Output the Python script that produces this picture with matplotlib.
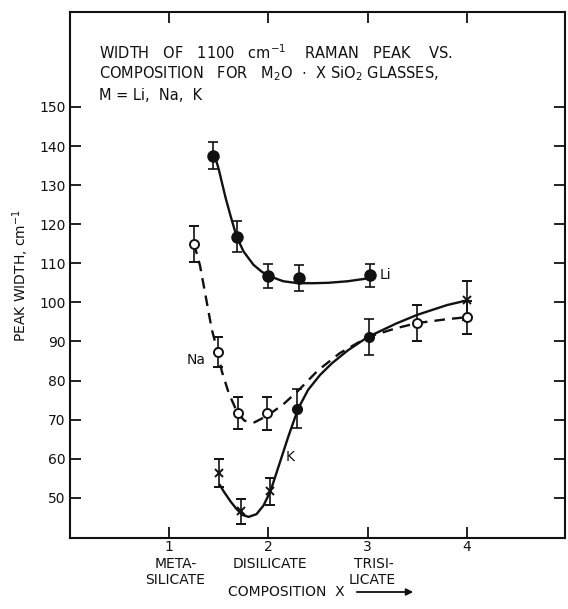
#!/usr/bin/env python3
"""Width of the 1100 cm-1 Raman peak vs. composition for M2O . x SiO2 glasses."""
import matplotlib
matplotlib.use("Agg")
import matplotlib.pyplot as plt  # noqa: E402

# -- data -----------------------------------------------------------------------

# Li (filled circles, solid curve)
li_x = [1.44, 1.68, 2.0, 2.31, 3.02]
li_y = [137.5, 116.8, 106.8, 106.3, 106.9]
li_err = [3.5, 4.0, 3.0, 3.3, 3.0]
li_curve_x = [1.44, 1.47, 1.50, 1.53, 1.57, 1.62, 1.68, 1.75, 1.85, 1.93, 2.0,
              2.15, 2.3, 2.45, 2.6, 2.8, 3.02]
li_curve_y = [137.5, 136.6, 134.0, 130.8, 126.6, 122.0, 116.8, 113.0, 109.6,
              107.9, 106.8, 105.4, 104.9, 104.9, 105.0, 105.4, 106.2]

# Na (open circles, dashed curve)
na_x = [1.25, 1.49, 1.69, 1.99, 3.5, 4.0]
na_y = [115.0, 87.3, 71.6, 71.6, 94.7, 96.2]
na_err = [4.6, 3.8, 4.1, 4.2, 4.5, 4.2]
na_curve_x = [1.25, 1.31, 1.43, 1.49, 1.53, 1.60, 1.69, 1.76, 1.86, 1.99,
              2.15, 2.3, 2.5, 2.72, 3.0, 3.29, 3.5, 3.8, 4.0]
na_curve_y = [115.0, 109.5, 93.0, 87.3, 82.4, 76.8, 71.6, 69.7, 69.3, 71.0,
              73.9, 77.4, 82.6, 87.0, 91.1, 93.4, 94.7, 95.7, 96.2]

# K (crosses, solid curve)
k_x = [1.5, 1.72, 2.02, 4.0]
k_y = [56.3, 46.5, 51.6, 100.5]
k_err = [3.5, 3.2, 3.4, 5.0]
k_curve_x = [1.51, 1.55, 1.62, 1.68, 1.74, 1.8, 1.88, 1.95, 2.02, 2.1, 2.2,
             2.3, 2.4, 2.52, 2.64, 2.8, 3.0, 3.29, 3.5, 3.8, 4.0]
k_curve_y = [53.3, 51.6, 49.0, 47.1, 45.6, 45.1, 45.8, 48.0, 51.6, 57.8,
             65.6, 72.8, 77.6, 81.4, 84.4, 87.7, 91.1, 94.6, 96.8, 99.3, 100.5]

# points drawn as small filled dots (K at 2.3, K/Na shared at 3)
dot_x = [2.29, 3.01]
dot_y = [72.8, 91.1]
dot_err = [5.0, 4.6]

y_ticks = [50, 60, 70, 80, 90, 100, 110, 120, 130, 140, 150]
x_ticks = [1, 2, 3, 4]
x_tick_labels = ["1", "2", "3", "4"]

# title lines (the original lettering is wide, so words are spaced out)
title_lines = [
    "WIDTH   OF   1100   cm$^{-1}$    RAMAN   PEAK    VS.",
    "COMPOSITION   FOR   M$_2$O  $\\cdot$  X SiO$_2$ GLASSES,",
    "M = Li,  Na,  K",
]

INK = "#111111"
FS = 10

fig = plt.figure(figsize=(5.68, 6.09), dpi=100)
ax = fig.add_axes([70 / 568, 1 - 538 / 609, 495 / 568, 526 / 609])

# curves
ax.plot(li_curve_x, li_curve_y, color=INK, lw=1.7, solid_capstyle="round",
        solid_joinstyle="round")
ax.plot(k_curve_x, k_curve_y, color=INK, lw=1.7, solid_capstyle="round",
        solid_joinstyle="round")
ax.plot(na_curve_x, na_curve_y, color=INK, lw=1.7, ls=(0, (4.5, 3.0)))

ebar = dict(ecolor=INK, elinewidth=1.2, capsize=3.5, capthick=1.2, ls="none")
ax.errorbar(li_x, li_y, yerr=li_err, marker="o", ms=8, mfc=INK, mec=INK,
            zorder=4, **ebar)
ax.errorbar(na_x, na_y, yerr=na_err, marker="o", ms=6.5, mfc="white", mec=INK,
            mew=1.4, zorder=4, **ebar)
ax.errorbar(k_x, k_y, yerr=k_err, marker="x", ms=5.5, mec=INK, mew=1.4,
            zorder=4, **ebar)
ax.errorbar(dot_x, dot_y, yerr=dot_err, marker="o", ms=7, mfc=INK, mec=INK,
            zorder=4, **ebar)

# series labels
ax.text(3.12, 106.9, "Li", fontsize=FS, color=INK, va="center", ha="left")
ax.text(1.37, 85.2, "Na", fontsize=FS, color=INK, va="center", ha="right")
ax.text(2.22, 60.5, "K", fontsize=FS, color=INK, va="center", ha="center")

# title block inside the frame
for i, line in enumerate(title_lines):
    fig.text(99 / 568, 1 - (53 + i * 21) / 609, line, fontsize=10.5,
             color=INK, ha="left", va="center")

ax.set_xlim(0.0, 4.99)
ax.set_ylim(39.7, 174.3)
ax.set_xticks(x_ticks)
ax.set_xticklabels(x_tick_labels)
ax.set_yticks(y_ticks)
ax.tick_params(direction="in", length=8, width=1.3, labelsize=FS, colors=INK,
               top=True, right=True, labeltop=False, labelright=False)
ax.tick_params(axis="x", pad=1.5)
ax.tick_params(axis="y", pad=3)
for sp in ax.spines.values():
    sp.set_linewidth(1.5)
    sp.set_color(INK)

ax.set_ylabel("PEAK WIDTH, cm$^{-1}$", fontsize=FS, color=INK, labelpad=6)

# composition names under the x ticks
names = [("META-", 176, 564), ("SILICATE", 175, 580), ("DISILICATE", 270, 564),
         ("TRISI-", 374, 564), ("LICATE", 372, 580)]
for txt, px, py in names:
    fig.text(px / 568, 1 - py / 609, txt, fontsize=FS, color=INK,
             ha="center", va="center")

fig.text(228 / 568, 1 - 592 / 609, "COMPOSITION  X", fontsize=FS, color=INK,
         ha="left", va="center")
ax.annotate("", xy=(416 / 568, 1 - 592 / 609), xytext=(354 / 568, 1 - 592 / 609),
            xycoords="figure fraction", textcoords="figure fraction",
            arrowprops=dict(arrowstyle="-|>", color=INK, lw=1.3,
                            mutation_scale=10))

fig.savefig("out.png", dpi=100)
